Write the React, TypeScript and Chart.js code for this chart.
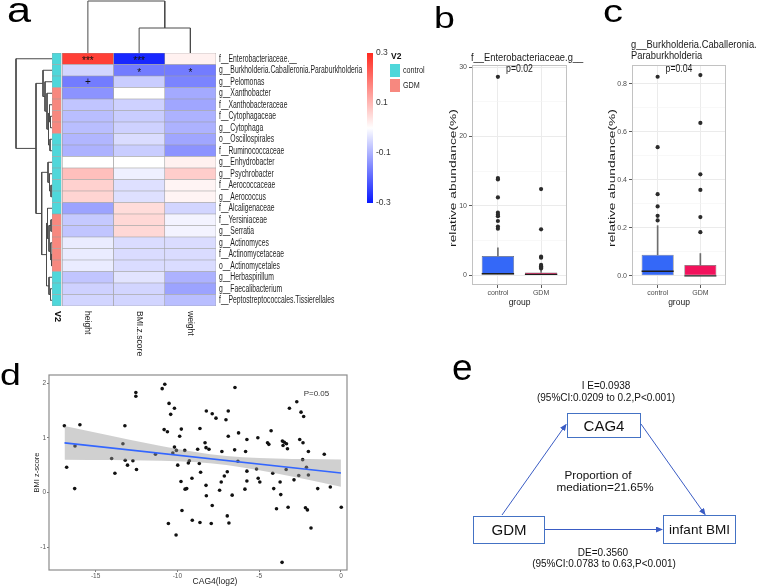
import React, { useEffect, useRef } from 'react';
import { Chart, registerables } from 'chart.js';

Chart.register(...registerables);

const SANS = '"Liberation Sans", Arial, Helvetica, sans-serif';
Chart.defaults.font.family = SANS;

// ---------------- Panel a : heatmap ----------------
const heatRows = [
  'f__Enterobacteriaceae.__',
  'g__Burkholderia.Caballeronia.Paraburkholderia',
  'g__Pelomonas',
  'g__Xanthobacter',
  'f__Xanthobacteraceae',
  'f__Cytophagaceae',
  'g__Cytophaga',
  'o__Oscillospirales',
  'f__Ruminococcaceae',
  'g__Enhydrobacter',
  'g__Psychrobacter',
  'f__Aerococcaceae',
  'g__Aerococcus',
  'f__Alcaligenaceae',
  'f__Yersiniaceae',
  'g__Serratia',
  'g__Actinomyces',
  'f__Actinomycetaceae',
  'o__Actinomycetales',
  'g__Herbaspirillum',
  'g__Faecalibacterium',
  'f__Peptostreptococcales.Tissierellales',
];
const heatCols = ['height', 'BMI.z.score', 'weight'];
const heatHeight = [0.27, -0.055, -0.17, -0.14, -0.075, -0.085, -0.085, -0.095, -0.1, 0.0, 0.09, 0.065, 0.06, -0.12, -0.07, -0.075, -0.025, -0.025, -0.025, -0.075, -0.06, -0.055];
const heatBMI = [-0.28, -0.17, -0.065, 0.0, -0.06, -0.065, -0.06, -0.045, -0.065, 0.0, -0.02, -0.04, -0.04, 0.05, 0.055, 0.055, -0.045, -0.045, -0.045, -0.035, -0.055, -0.055];
const heatWeight = [0.02, -0.17, -0.16, -0.11, -0.115, -0.1, -0.1, -0.115, -0.14, 0.02, 0.07, 0.015, 0.015, -0.055, -0.015, -0.015, -0.045, -0.045, -0.045, -0.1, -0.12, -0.085];
const heatSigHeight = ['***', '', '+', '', '', '', '', '', '', '', '', '', '', '', '', '', '', '', '', '', '', ''];
const heatSigBMI = ['***', '*', '', '', '', '', '', '', '', '', '', '', '', '', '', '', '', '', '', '', '', ''];
const heatSigWeight = ['', '*', '', '', '', '', '', '', '', '', '', '', '', '', '', '', '', '', '', '', '', ''];
const rowGroup = ['control', 'control', 'control', 'GDM', 'GDM', 'GDM', 'GDM', 'control', 'control', 'control', 'control', 'control', 'control', 'control', 'GDM', 'GDM', 'GDM', 'GDM', 'GDM', 'control', 'control', 'control'];
const groupLevels = ['control', 'GDM'];
const colorbarTicks = [-0.3, -0.1, 0.1, 0.3];
// dendrogram merges (hclust style): negative = leaf number, positive = earlier merge, third = height
const rowMerges = [
  [-6, -7, 1.5], [-5, 1, 2.5], [-8, -9, 2], [2, 3, 3.5], [-4, 4, 5], [-3, 5, 7], [-2, 6, 9],
  [-12, -13, 1], [-11, 8, 2.5], [-10, 9, 4], [-15, -16, 1], [-18, -19, 0.5], [-17, 12, 1.2],
  [11, 13, 3], [-14, 14, 4.5], [-21, -22, 1.5], [-20, 16, 3], [15, 17, 5.5], [10, 18, 10.3],
  [7, 19, 16], [-1, 20, 36],
];
const colMerges = [[-2, -3, 25], [-1, 1, 52]];

// ---------------- Panels b, c : box plots ----------------
const boxGroups = ['control', 'GDM'];
const bQ1 = [0, 0];
const bMedian = [0.19, 0.1];
const bQ3 = [2.75, 0.38];
const bWhiskerHi = [3.93, 0.75];
const bOutControl = [28.6, 14.0, 13.8, 11.2, 9.0, 8.7, 8.5, 7.8, 7.0, 6.7];
const bOutGDM = [12.4, 6.6, 2.65, 2.5, 1.47, 1.28, 1.09, 0.95];
const bTicksMajor = [0, 10, 20, 30];
const bTicksMinor = [5, 15, 25];

const cQ1 = [0, 0];
const cMedian = [0.019, 0.0];
const cQ3 = [0.088, 0.045];
const cWhiskerHi = [0.209, 0.093];
const cOutControl = [0.829, 0.536, 0.34, 0.289, 0.25, 0.231];
const cOutGDM = [0.836, 0.637, 0.423, 0.358, 0.245, 0.182];
const cTicksMajor = [0, 0.2, 0.4, 0.6, 0.8];
const cTicksMinor = [0.1, 0.3, 0.5, 0.7];

// ---------------- Panel d : scatter ----------------
const dX = [-16.91, -16.77, -16.26, -15.96, -16.28, -14.02, -13.82, -13.33, -13.21, -13.19, -13.05, -12.72, -12.54, -12.54, -12.5, -11.34, -10.93, -10.77, -10.81, -10.61, -10.51, -10.41, -10.18, -10.55, -10.08, -10.18, -10.06, -10.28, -9.98, -9.86, -9.76, -9.78, -9.72, -9.55, -9.53, -9.43, -9.33, -9.27, -9.09, -9.11, -8.76, -8.66, -8.62, -8.58, -8.62, -8.31, -8.23, -8.25, -8.07, -8.25, -8.23, -7.93, -7.87, -7.87, -7.64, -7.42, -7.32, -7.28, -7.13, -7.03, -6.95, -6.89, -6.89, -6.95, -6.85, -6.65, -6.48, -6.5, -6.3, -6.26, -5.83, -5.87, -5.75, -5.75, -5.75, -5.08, -5.16, -5.06, -4.96, -4.27, -4.49, -4.41, -4.17, -4.11, -3.94, -3.72, -3.68, -3.6, -3.58, -3.54, -3.46, -3.33, -3.27, -3.35, -3.23, -3.15, -2.87, -2.7, -2.58, -2.52, -2.44, -2.34, -2.32, -2.28, -2.17, -2.11, -2.05, -1.99, -1.99, -1.83, -1.42, -1.02, -0.65, 0.02];
const dY = [1.22, 0.46, 0.85, 1.24, 0.07, 0.62, 0.35, 0.89, 1.22, 0.59, 0.5, 0.58, 1.83, 1.76, 0.42, 0.7, 1.9, 1.98, 1.15, 1.11, 1.63, 1.43, 1.54, -0.57, -0.78, 0.83, 0.77, 0.72, 0.5, 1.03, 1.16, 0.2, -0.33, 0.77, 0.06, 0.07, 0.54, 0.58, -0.51, 0.26, 0.79, 0.53, 1.17, 0.37, -0.55, 0.91, 1.49, 0.82, 0.79, 0.13, -0.06, -0.57, 1.44, -0.24, 1.36, 0.04, 0.19, 0.75, 0.3, 1.33, 0.38, 1.49, 1.03, -0.43, -0.56, -0.05, 1.92, 0.78, 0.57, 1.09, 0.75, 0.06, 0.97, 0.39, 0.21, 1.0, 0.43, 0.26, 0.19, 1.13, 0.91, 0.88, 0.35, 0.07, -0.3, 0.19, -0.04, -1.28, 0.94, 0.86, 0.92, 0.89, 0.8, 0.42, -0.27, 1.54, 0.23, 1.66, 0.31, 0.97, 1.47, 0.6, 0.91, 1.39, -0.28, 0.46, -0.32, 0.32, 0.75, -0.65, 0.07, 0.7, 0.1, -0.27];
const dFitX = [-16.9, 0];
const dFitY = [0.908, 0.355];
const dBandX = [-16.9, -14, -12, -10, -8, -6, -4, -2, 0];
const dBandUpper = [1.216, 1.033, 0.91, 0.795, 0.699, 0.644, 0.623, 0.61, 0.605];
const dBandLower = [0.6, 0.593, 0.584, 0.569, 0.535, 0.458, 0.349, 0.23, 0.105];
const dXTicks = [-15, -10, -5, 0];
const dYTicks = [-1, 0, 1, 2];

// ---------------- helpers ----------------
const CYAN = '#4fd7da';
const PINK = '#f7887f';
const BOX_COLORS = ['#3468f8', '#f2125c'];

function heatColor(v: number): string {
  const t = Math.max(-1, Math.min(1, v / 0.3));
  const end = t >= 0 ? [255, 42, 32] : [8, 24, 255];
  const a = Math.abs(t);
  const c = end.map((e) => Math.round(255 + (e - 255) * a));
  return `rgb(${c[0]},${c[1]},${c[2]})`;
}

function drawText(ctx: CanvasRenderingContext2D, text: string, x: number, y: number, o: any) {
  ctx.save();
  ctx.translate(x, y);
  if (o.rot) ctx.rotate(o.rot);
  ctx.scale(o.sx ?? 1, 1);
  ctx.font = `${o.weight ?? 'normal'} ${o.size}px ${SANS}`;
  ctx.fillStyle = o.color ?? '#222';
  ctx.textAlign = o.align ?? 'left';
  ctx.textBaseline = o.baseline ?? 'middle';
  ctx.fillText(text, 0, 0);
  ctx.restore();
}

function dendroSegments(merges: number[][]) {
  const pos: number[] = [];
  const hts: number[] = [];
  const get = (id: number) => (id < 0 ? { p: -id - 0.5, h: 0 } : { p: pos[id - 1], h: hts[id - 1] });
  return merges.map(([a, b, h], k) => {
    const A = get(a);
    const B = get(b);
    pos[k] = (A.p + B.p) / 2;
    hts[k] = h;
    return [
      { p: A.p, h: A.h },
      { p: A.p, h },
      { p: B.p, h },
      { p: B.p, h: B.h },
    ];
  });
}

function boxChart(canvas: HTMLCanvasElement, p: any) {
  const outliers = [
    ...p.outControl.map((v: number) => ({ x: 1, y: v })),
    ...p.outGDM.map((v: number) => ({ x: 2, y: v })),
  ];
  const allTicks = [...p.major, ...p.minor].sort((a: number, b: number) => a - b);
  const isMajor = (v: number) => p.major.some((m: number) => Math.abs(m - v) < 1e-9);
  const textPlugin = {
    id: 'boxText',
    afterDraw(chart: any) {
      const { ctx, chartArea: a, scales } = chart;
      ctx.save();
      ctx.strokeStyle = '#c2c2c2';
      ctx.lineWidth = 1;
      ctx.strokeRect(a.left + 0.5, a.top + 0.5, a.right - a.left - 1, a.bottom - a.top - 1);
      ctx.restore();
      p.title.forEach((t: string, i: number) =>
        drawText(ctx, t, a.left - 1, a.top + p.titleOffsets[i], { size: 10.5, sx: 0.89, baseline: 'alphabetic', color: '#1a1a1a' })
      );
      drawText(ctx, p.pText, scales.x.getPixelForValue(1.5), a.top + 4.5, { size: 10, sx: 0.87, align: 'center', color: '#1a1a1a' });
      drawText(ctx, 'relative abundance(%)', a.left - p.yTitleGap, (a.top + a.bottom) / 2 + 3, {
        size: 9.5, sx: 1.45, rot: -Math.PI / 2, align: 'center', color: '#1a1a1a',
      });
    },
  };
  return new Chart(canvas, {
    type: 'bar',
    data: {
      datasets: [
        {
          type: 'bar',
          data: boxGroups.map((g, i) => ({ x: i + 1, y: [p.q3[i], p.whi[i]] })),
          backgroundColor: '#6e6e6e',
          barThickness: 1,
          grouped: false,
          order: 4,
        },
        {
          type: 'bar',
          data: boxGroups.map((g, i) => ({ x: i + 1, y: [p.q1[i], p.q3[i]] })),
          backgroundColor: BOX_COLORS,
          borderColor: '#6a6a6a',
          borderWidth: 0.7,
          borderSkipped: false,
          barPercentage: 0.75,
          categoryPercentage: 1,
          grouped: false,
          order: 3,
        },
        {
          type: 'scatter',
          data: boxGroups.map((g, i) => ({ x: i + 1, y: p.med[i] })),
          pointStyle: 'line',
          pointRadius: (c: any) => {
            const s = c.chart.scales.x;
            return Math.abs(s.getPixelForValue(1.375) - s.getPixelForValue(1));
          },
          borderColor: '#1e1e1e',
          borderWidth: 1.4,
          order: 2,
        },
        {
          type: 'scatter',
          data: outliers,
          pointRadius: 2.1,
          backgroundColor: '#2b2b2b',
          borderWidth: 0,
          order: 1,
        },
      ],
    } as any,
    options: {
      responsive: false,
      animation: false,
      events: [],
      layout: { padding: { top: p.padTop, right: p.padRight, left: 0, bottom: 0 } },
      plugins: { legend: { display: false }, tooltip: { enabled: false } },
      scales: {
        x: {
          type: 'linear',
          offset: false,
          min: 0.4,
          max: 2.6,
          afterBuildTicks: (s: any) => { s.ticks = [{ value: 1 }, { value: 2 }]; },
          afterFit: (s: any) => { s.height = 27; },
          ticks: {
            callback: (v: any) => boxGroups[Math.round(v) - 1] ?? '',
            font: { size: 7 }, color: '#4d4d4d', padding: 1, maxRotation: 0, autoSkip: false,
          },
          grid: { offset: false, color: '#ebebeb', tickLength: 3, tickColor: '#5a5a5a' },
          border: { display: false },
          title: { display: true, text: 'group', font: { size: 8.5 }, color: '#1a1a1a', padding: { top: 0, bottom: 4 } },
        },
        y: {
          type: 'linear',
          min: p.yMin,
          max: p.yMax,
          afterBuildTicks: (s: any) => { s.ticks = allTicks.map((v: number) => ({ value: v })); },
          afterFit: (s: any) => { s.width = p.yAxisWidth; },
          ticks: {
            callback: (v: any) => (isMajor(v) ? p.fmt(v) : ''),
            font: { size: 7 }, color: '#4d4d4d', padding: 2, autoSkip: false,
          },
          grid: {
            color: (c: any) => (isMajor(c.tick.value) ? '#ebebeb' : '#f4f4f4'),
            lineWidth: (c: any) => (isMajor(c.tick.value) ? 1 : 0.6),
            tickColor: (c: any) => (isMajor(c.tick.value) ? '#5a5a5a' : 'rgba(0,0,0,0)'),
            tickLength: 3,
          },
          border: { display: false },
        },
      },
    } as any,
    plugins: [textPlugin],
  });
}

export default function App() {
  const heatRef = useRef<HTMLCanvasElement>(null);
  const rowDendRef = useRef<HTMLCanvasElement>(null);
  const colDendRef = useRef<HTMLCanvasElement>(null);
  const cbarRef = useRef<HTMLCanvasElement>(null);
  const bRef = useRef<HTMLCanvasElement>(null);
  const cRef = useRef<HTMLCanvasElement>(null);
  const dRef = useRef<HTMLCanvasElement>(null);

  useEffect(() => {
    const charts: Chart[] = [];
    const heatValues = [heatHeight, heatBMI, heatWeight];
    const heatSig = [heatSigHeight, heatSigBMI, heatSigWeight];

    // ---- heatmap ----
    const heatText = {
      id: 'heatText',
      afterDatasetsDraw(chart: any) {
        const { ctx, chartArea: a, scales: { x, y } } = chart;
        heatRows.forEach((r, i) => {
          drawText(ctx, r, a.right + 3, y.getPixelForValue(i), { size: 10, sx: 0.68, color: '#1f1f1f' });
          heatSig.forEach((col, ci) => {
            const s = col[i];
            if (!s) return;
            drawText(ctx, s, x.getPixelForValue(ci + 0.5), y.getPixelForValue(i) + (s === '+' ? 0.5 : 2.5), { size: 10, align: 'center', color: '#111' });
          });
        });
        heatCols.forEach((c, ci) =>
          drawText(ctx, c, x.getPixelForValue(ci + 0.5), a.bottom + 5, { size: 9.5, sx: 0.9, rot: Math.PI / 2, color: '#1f1f1f' })
        );
        drawText(ctx, 'V2', x.getPixelForValue(-0.1), a.bottom + 5, { size: 9, weight: 'bold', rot: Math.PI / 2, color: '#111' });
      },
    };
    charts.push(
      new Chart(heatRef.current!, {
        type: 'bar',
        data: {
          labels: heatRows,
          datasets: [
            {
              label: 'V2',
              data: heatRows.map(() => [-0.2, -0.02]),
              backgroundColor: rowGroup.map((g) => (g === 'control' ? CYAN : PINK)),
            },
            ...heatCols.map((c, ci) => ({
              label: c,
              data: heatRows.map(() => [ci, ci + 1]),
              backgroundColor: heatValues[ci].map(heatColor),
            })),
          ].map((d) => ({
            ...d,
            grouped: false,
            barPercentage: 1,
            categoryPercentage: 1,
            borderWidth: 0.6,
            borderColor: '#9a9a9a',
            borderSkipped: false,
          })),
        } as any,
        options: {
          indexAxis: 'y',
          responsive: false,
          animation: false,
          events: [],
          layout: { padding: { left: 12, top: 13, right: 164, bottom: 64 } },
          plugins: { legend: { display: false }, tooltip: { enabled: false } },
          scales: {
            x: { type: 'linear', min: -0.2, max: 3, display: false },
            y: { type: 'category', display: false },
          },
        } as any,
        plugins: [heatText],
      })
    );

    // ---- row dendrogram ----
    charts.push(
      new Chart(rowDendRef.current!, {
        type: 'scatter',
        data: {
          datasets: dendroSegments(rowMerges).map((seg) => ({
            data: seg.map((q) => ({ x: q.h, y: q.p })),
            showLine: true,
            borderColor: '#4a4a4a',
            borderWidth: 1,
            pointRadius: 0,
            clip: false,
          })),
        } as any,
        options: {
          responsive: false,
          animation: false,
          events: [],
          layout: { padding: { left: 4 } },
          plugins: { legend: { display: false }, tooltip: { enabled: false } },
          scales: {
            x: { type: 'linear', min: 0, max: 36, reverse: true, display: false },
            y: { type: 'linear', min: 0, max: heatRows.length, reverse: true, display: false },
          },
        } as any,
      })
    );

    // ---- column dendrogram ----
    charts.push(
      new Chart(colDendRef.current!, {
        type: 'scatter',
        data: {
          datasets: dendroSegments(colMerges).map((seg) => ({
            data: seg.map((q) => ({ x: q.p, y: q.h })),
            showLine: true,
            borderColor: '#4a4a4a',
            borderWidth: 1,
            pointRadius: 0,
            clip: false,
          })),
        } as any,
        options: {
          responsive: false,
          animation: false,
          events: [],
          layout: { padding: { top: 1 } },
          plugins: { legend: { display: false }, tooltip: { enabled: false } },
          scales: {
            x: { type: 'linear', min: -0.2, max: 3, display: false },
            y: { type: 'linear', min: 0, max: 52, display: false },
          },
        } as any,
      })
    );

    // ---- colour bar + V2 legend ----
    const v2Legend = {
      id: 'v2Legend',
      afterDraw(chart: any) {
        const { ctx } = chart;
        drawText(ctx, 'V2', 31, 12, { size: 8.5, weight: 'bold', color: '#111' });
        [CYAN, PINK].forEach((col, i) => {
          ctx.fillStyle = col;
          ctx.fillRect(30, 19 + i * 15, 10, 13);
          drawText(ctx, groupLevels[i], 43, 26 + i * 15, { size: 9, sx: 0.8, color: '#1f1f1f' });
        });
      },
    };
    charts.push(
      new Chart(cbarRef.current!, {
        type: 'bar',
        data: {
          labels: [''],
          datasets: [
            {
              data: [[-0.3, 0.3]],
              barPercentage: 1,
              categoryPercentage: 1,
              borderWidth: 0,
              backgroundColor: (c: any) => {
                const { ctx, chartArea } = c.chart;
                if (!chartArea) return 'rgba(0,0,0,0)';
                const g = ctx.createLinearGradient(0, chartArea.bottom, 0, chartArea.top);
                g.addColorStop(0, heatColor(-0.3));
                g.addColorStop(0.5, heatColor(0));
                g.addColorStop(1, heatColor(0.3));
                return g;
              },
            },
          ],
        } as any,
        options: {
          responsive: false,
          animation: false,
          events: [],
          layout: { padding: { left: 7, top: 8, bottom: 12, right: 0 } },
          plugins: { legend: { display: false }, tooltip: { enabled: false } },
          scales: {
            x: { display: false },
            y: {
              position: 'right',
              min: -0.3,
              max: 0.3,
              afterBuildTicks: (s: any) => { s.ticks = colorbarTicks.map((v) => ({ value: v })); },
              afterFit: (s: any) => { s.width = 57; },
              ticks: { font: { size: 8.5 }, color: '#333', padding: 3, autoSkip: false },
              grid: { display: false, drawTicks: false, tickLength: 0 },
              border: { display: false },
            },
          },
        } as any,
        plugins: [v2Legend],
      })
    );

    // ---- panel b ----
    charts.push(
      boxChart(bRef.current!, {
        q1: bQ1, med: bMedian, q3: bQ3, whi: bWhiskerHi, outControl: bOutControl, outGDM: bOutGDM,
        major: bTicksMajor, minor: bTicksMinor, yMin: -1.43, yMax: 30.3, fmt: (v: number) => String(v),
        title: ['f__Enterobacteriaceae.g__'], titleOffsets: [-4], pText: 'p=0.02', padTop: 35, padRight: 21, yAxisWidth: 29, yTitleGap: 19,
      })
    );
    // ---- panel c ----
    charts.push(
      boxChart(cRef.current!, {
        q1: cQ1, med: cMedian, q3: cQ3, whi: cWhiskerHi, outControl: cOutControl, outGDM: cOutGDM,
        major: cTicksMajor, minor: cTicksMinor, yMin: -0.038, yMax: 0.878, fmt: (v: number) => v.toFixed(1),
        title: ['g__Burkholderia.Caballeronia.', 'Paraburkholderia'], titleOffsets: [-17.5, -6], pText: 'p=0.04', padTop: 45, padRight: 34, yAxisWidth: 30, yTitleGap: 20,
      })
    );

    // ---- panel d ----
    const dText = {
      id: 'dText',
      afterDraw(chart: any) {
        const { ctx, chartArea: a, scales: { x, y } } = chart;
        ctx.save();
        ctx.strokeStyle = '#8c8c8c';
        ctx.lineWidth = 1.2;
        ctx.strokeRect(a.left, a.top, a.right - a.left, a.bottom - a.top);
        ctx.restore();
        drawText(ctx, 'P=0.05', x.getPixelForValue(-1.5), y.getPixelForValue(1.81), { size: 8, align: 'center', color: '#333' });
        drawText(ctx, 'CAG4(log2)', x.getPixelForValue(-7.7), a.bottom + 11.5, { size: 8.5, align: 'center', color: '#222' });
      },
    };
    charts.push(
      new Chart(dRef.current!, {
        type: 'scatter',
        data: {
          datasets: [
            {
              type: 'scatter',
              data: dX.map((v, i) => ({ x: v, y: dY[i] })),
              pointRadius: 1.8,
              backgroundColor: '#111',
              borderWidth: 0,
              order: 3,
            },
            {
              type: 'line',
              data: dBandX.map((v, i) => ({ x: v, y: dBandUpper[i] })),
              borderWidth: 0,
              pointRadius: 0,
              fill: '+1',
              backgroundColor: 'rgba(150,150,150,0.45)',
              cubicInterpolationMode: 'monotone',
              order: 2,
            },
            {
              type: 'line',
              data: dBandX.map((v, i) => ({ x: v, y: dBandLower[i] })),
              borderWidth: 0,
              pointRadius: 0,
              fill: false,
              cubicInterpolationMode: 'monotone',
              order: 2,
            },
            {
              type: 'line',
              data: dFitX.map((v, i) => ({ x: v, y: dFitY[i] })),
              borderColor: '#3366ff',
              borderWidth: 1.6,
              pointRadius: 0,
              fill: false,
              order: 1,
            },
          ],
        } as any,
        options: {
          responsive: false,
          animation: false,
          events: [],
          layout: { padding: { top: 5, right: 5, left: 0, bottom: 0 } },
          plugins: { legend: { display: false }, tooltip: { enabled: false } },
          scales: {
            x: {
              type: 'linear',
              min: -17.85,
              max: 0.37,
              afterBuildTicks: (s: any) => { s.ticks = dXTicks.map((v) => ({ value: v })); },
              afterFit: (s: any) => { s.height = 17; },
              ticks: { font: { size: 6.5 }, color: '#555', padding: 0, autoSkip: false, maxRotation: 0 },
              grid: { drawOnChartArea: false, tickLength: 2, tickColor: '#777' },
              border: { display: false },
            },
            y: {
              type: 'linear',
              min: -1.42,
              max: 2.15,
              afterBuildTicks: (s: any) => { s.ticks = dYTicks.map((v) => ({ value: v })); },
              afterFit: (s: any) => { s.width = 19; },
              ticks: { font: { size: 6.5 }, color: '#555', padding: 1, autoSkip: false },
              grid: { drawOnChartArea: false, tickLength: 2, tickColor: '#777' },
              border: { display: false },
              title: { display: true, text: 'BMI z-score', font: { size: 7.5 }, color: '#222', padding: { top: 2, bottom: 0 } },
            },
          },
        } as any,
        plugins: [dText],
      })
    );

    return () => charts.forEach((c) => c.destroy());
  }, []);

  const abs = (left: number, top: number): React.CSSProperties => ({ position: 'absolute', left, top });
  const blue = '#4472c4';
  const arrow = '#3a5cc4';

  return (
    <div style={{ position: 'absolute', left: 0, top: 0, width: 760, height: 587, background: '#fff', overflow: 'hidden', fontFamily: SANS }}>
      <canvas ref={colDendRef} width={164} height={53} style={abs(52, 0)} />
      <canvas ref={rowDendRef} width={40} height={253} style={abs(12, 53)} />
      <canvas ref={heatRef} width={340} height={330} style={abs(40, 40)} />
      <canvas ref={cbarRef} width={70} height={170} style={abs(360, 45)} />
      <canvas ref={bRef} width={145} height={282} style={abs(443, 30)} />
      <canvas ref={cRef} width={158} height={292} style={abs(602, 20)} />
      <canvas ref={dRef} width={322} height={217} style={abs(30, 370)} />
      <svg width={760} height={587} style={{ position: 'absolute', left: 0, top: 0, pointerEvents: 'none' }} fontFamily={SANS}>
        <defs>
          <marker id="arrowHead" markerWidth="7" markerHeight="6" refX="6" refY="3" orient="auto" markerUnits="userSpaceOnUse">
            <path d="M0,0 L7,3 L0,6 z" fill={arrow} />
          </marker>
        </defs>
        <text transform="translate(7,22) scale(1.2,1)" fontSize={36} fill="#000">a</text>
        <text transform="translate(434,28) scale(1.25,1)" fontSize={30} fill="#000">b</text>
        <text transform="translate(603,22) scale(1.25,1)" fontSize={32} fill="#000">c</text>
        <text transform="translate(0,385) scale(1.25,1)" fontSize={30} fill="#000">d</text>
        <text transform="translate(452,380)" fontSize={37} fill="#000">e</text>

        <text x={606} y={388.5} fontSize={10} textAnchor="middle" fill="#111">I E=0.0938</text>
        <text x={606} y={400.5} fontSize={10} textAnchor="middle" fill="#111">(95%CI:0.0209 to 0.2,P&lt;0.001)</text>
        <rect x={567.5} y={413.5} width={73} height={24} fill="none" stroke={blue} strokeWidth={1} />
        <text x={604} y={430.5} fontSize={15} textAnchor="middle" fill="#111">CAG4</text>
        <text x={598} y={479} fontSize={11.7} textAnchor="middle" fill="#111">Proportion of</text>
        <text x={605} y={490.5} fontSize={11.7} textAnchor="middle" fill="#111">mediation=21.65%</text>
        <rect x={473.5} y={516.5} width={71} height={27} fill="none" stroke={blue} strokeWidth={1} />
        <text x={509} y={535} fontSize={15} textAnchor="middle" fill="#111">GDM</text>
        <rect x={663.5} y={515.5} width={72} height={28} fill="none" stroke={blue} strokeWidth={1} />
        <text x={699.5} y={534} fontSize={13.5} textAnchor="middle" fill="#111">infant BMI</text>
        <line x1={502} y1={515} x2={566} y2={424.5} stroke={arrow} strokeWidth={1} markerEnd="url(#arrowHead)" />
        <line x1={641} y1={424} x2={705} y2={514.5} stroke={arrow} strokeWidth={1} markerEnd="url(#arrowHead)" />
        <line x1={545} y1={529.5} x2={662} y2={529.5} stroke={arrow} strokeWidth={1} markerEnd="url(#arrowHead)" />
        <text x={603} y={556} fontSize={10} textAnchor="middle" fill="#111">DE=0.3560</text>
        <text x={604} y={567} fontSize={10} textAnchor="middle" fill="#111">(95%CI:0.0783 to 0.63,P&lt;0.001)</text>
      </svg>
    </div>
  );
}
